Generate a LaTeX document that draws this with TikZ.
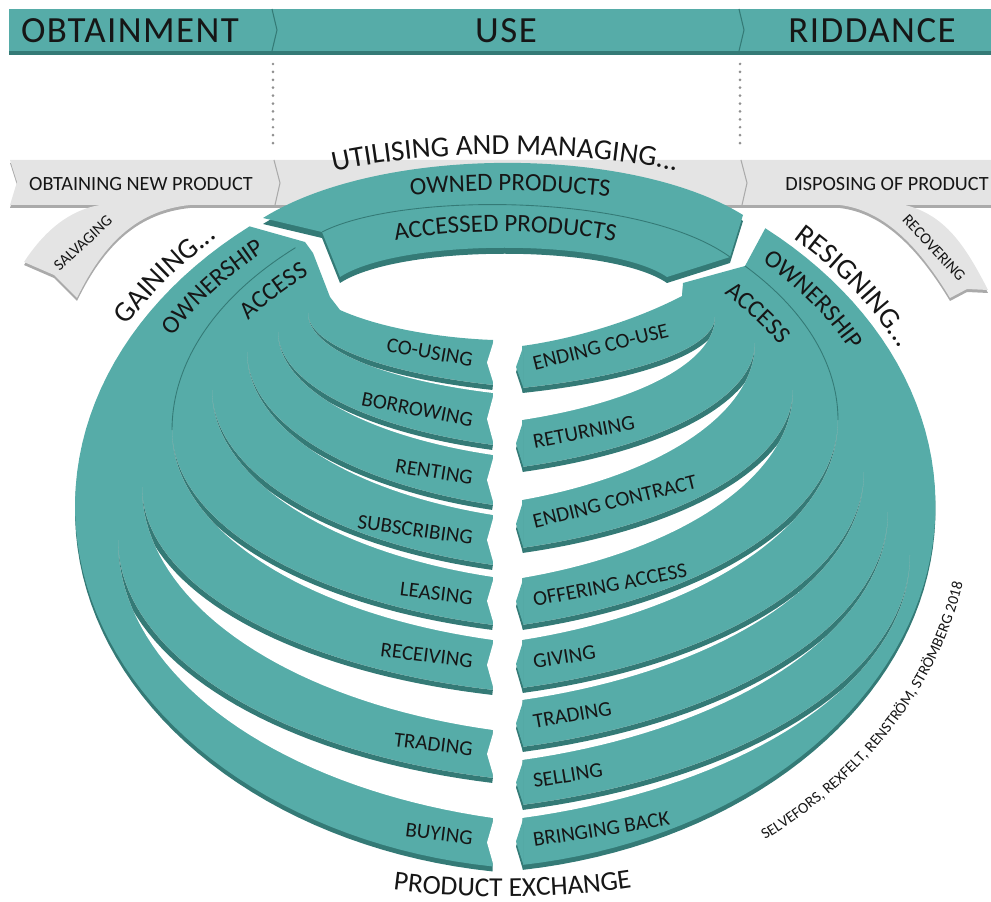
\documentclass[tikz,border=0pt]{standalone}
\usepackage{fontspec}
\setmainfont{Carlito}
\newfontfamily\headfont[LetterSpace=4]{Carlito}
\usetikzlibrary{decorations.text}

\definecolor{bandteal}{RGB}{86,172,168}
\definecolor{banddark}{RGB}{52,122,118}
\definecolor{bargray}{RGB}{228,228,228}
\definecolor{barshade}{RGB}{170,170,170}
\definecolor{ink}{RGB}{22,22,22}

% font sizes for the curved captions
\newcommand\arcbig{\fontsize{16.5}{19}\selectfont}
\newcommand\arcmid{\fontsize{14.2}{17}\selectfont}
\newcommand\arcsmall{\fontsize{8.8}{10}\selectfont}

% outlines that are filled twice (shade, then colour)
\newcommand\leftregion{plot[domain=0:1,samples=60,variable=\t] ({560+485*cos(230.2-132.3*\t)},{506+364*sin(230.2-132.3*\t)})
  -- (493,340) .. controls (440,338) and (380,328) .. (340,310) -- (330,297) -- (313,253) -- (305,242) -- cycle}
\newcommand\rightregion{plot[domain=0:1,samples=60,variable=\t] ({450+485.5*cos(-49.5+130.97*\t)},{505+364*sin(-49.5+130.97*\t)})
  -- (522,346) .. controls (580,338) and (640,318) .. (682,296) -- (683,283) -- (745,266) -- cycle}
\newcommand\topband{(263,218) .. controls (380,145) and (630,145) .. (743,215) -- (730,257) -- (667,277)
  .. controls (610,238) and (400,238) .. (340,277) -- (322,232) -- cycle}
\newcommand\graybar{(10,160) -- (1000,160) -- (1000,205) -- (905,205) .. controls (945,215) and (965,245) .. (988,290)
  -- (967,289) -- (950,298) .. controls (915,240) and (880,210) .. (840,205) -- (190,205)
  .. controls (140,210) and (105,240) .. (77,298) -- (54,275) -- (24,262)
  .. controls (45,230) and (70,210) .. (100,205) -- (10,205) -- (17,182) -- cycle}

\tikzset{
  lbl/.style={font=\fontsize{12}{14}\selectfont, text=ink, inner sep=0pt},
  headlbl/.style={font=\headfont\fontsize{21}{24}\selectfont, text=ink, inner sep=0pt},
  barlbl/.style={font=\fontsize{11.5}{13}\selectfont, text=ink, inner sep=0pt},
  twiglbl/.style={font=\fontsize{9}{10}\selectfont, text=ink, inner sep=0pt},
  divider/.style={draw=banddark, line width=0.5pt},
  dotline/.style={draw=barshade!85!black, line width=1.7pt, line cap=round, dash pattern=on 0pt off 4.5pt},
  curved/.style={decorate, decoration={text along path, text align=center, text color=ink, text={#1}}},
}

\begin{document}
\begin{tikzpicture}[x=0.02cm, y=-0.02cm]
\useasboundingbox (0,0) rectangle (991,902);
\clip (0,0) rectangle (991,902);

% phase header
\fill[banddark] (9,12) rectangle (991,55);
\fill[bandteal] (9,9) rectangle (991,51);
\draw[banddark, line width=0.6pt] (272,9) -- (277,30) -- (272,51);
\draw[banddark, line width=0.6pt] (739,9) -- (744,30) -- (739,51);
\node[headlbl] (obtain) at (130,31) {OBTAINMENT};
\node[headlbl] (use) at (506,31) {USE};
\node[headlbl] (riddance) at (872,31) {RIDDANCE};

\draw[dotline] (273,64) -- (273,150);
\draw[dotline] (740,64) -- (740,150);

% grey process bar with its two side branches
\fill[barshade, yshift=-0.06cm] \graybar;
\fill[bargray] \graybar;
\draw[barshade, line width=0.6pt] (274,160) -- (280,183) -- (275,205);
\draw[barshade, line width=0.6pt] (741,160) -- (747,183) -- (742,205);
\node[barlbl] (newprod) at (141,184) {OBTAINING NEW PRODUCT};
\node[barlbl] (dispose) at (887,184) {DISPOSING OF PRODUCT};
\node[twiglbl, rotate=43] (salvage) at (83,243) {SALVAGING};
\node[twiglbl, rotate=-47] (recover) at (934,248) {RECOVERING};

\path[curved={|\arcbig|UTILISING AND MANAGING...}] (300,180) .. controls (410,146) and (600,146) .. (710,180);

% use band on top
\fill[banddark, yshift=-0.12cm] \topband;
\fill[bandteal] \topband;
\draw[divider] (322,232) .. controls (400,192) and (640,192) .. (730,257);
\path[curved={|\arcmid|OWNED PRODUCTS}] (370,201) .. controls (440,187) and (570,187) .. (650,203);
\path[curved={|\arcmid|ACCESSED PRODUCTS}] (355,250) .. controls (440,225) and (570,225) .. (655,252);

% gaining and resigning fans
\fill[banddark, yshift=-0.1cm] \leftregion;
\fill[bandteal] \leftregion;
\fill[banddark, yshift=-0.1cm] \rightregion;
\fill[bandteal] \rightregion;

% gaps between the left arcs
\foreach \tx/\ty/\ya/\yb in {308/313/385/393, 278/332/445/455, 247/352/505/515, 212/390/565/577,
    172/430/625/640, 142/487/690/730, 118/540/778/818}{
  \pgfmathsetmacro\rx{610-\tx}
  \pgfmathsetmacro\te{acos(-117/\rx)}
  \pgfmathsetmacro\ra{(\ya-\ty)/sin(\te)}
  \pgfmathsetmacro\rb{(\yb-\ty)/sin(\te)}
  \begin{scope}
    \clip plot[domain=0:1,samples=40,variable=\t] ({610+\rx*cos(180+\t*(\te-180))},{\ty+\ra*sin(180+\t*(\te-180))})
      -- plot[domain=0:1,samples=40,variable=\t] ({610+\rx*cos(\te+\t*(180-\te))},{\ty+\rb*sin(\te+\t*(180-\te))}) -- cycle;
    \fill[white] (0,0) rectangle (991,902);
    \draw[banddark, line width=0.2cm] plot[domain=0:1,samples=40,variable=\t]
      ({610+\rx*cos(180+\t*(\te-180))},{\ty+\ra*sin(180+\t*(\te-180))});
  \end{scope}
}
% gaps between the right arcs
\foreach \tx/\ty/\ya/\yb in {715/317/388/420, 755/343/467/500, 793/390/548/578, 838/420/625/640,
    864/472/688/700, 888/512/747/760, 910/555/805/818}{
  \pgfmathsetmacro\rx{\tx-390}
  \pgfmathsetmacro\te{acos(132/\rx)}
  \pgfmathsetmacro\ra{(\ya-\ty)/sin(\te)}
  \pgfmathsetmacro\rb{(\yb-\ty)/sin(\te)}
  \begin{scope}
    \clip plot[domain=0:1,samples=40,variable=\t] ({390+\rx*cos(\t*\te)},{\ty+\ra*sin(\t*\te)})
      -- plot[domain=0:1,samples=40,variable=\t] ({390+\rx*cos(\te*(1-\t))},{\ty+\rb*sin(\te*(1-\t))}) -- cycle;
    \fill[white] (0,0) rectangle (991,902);
    \draw[banddark, line width=0.2cm] plot[domain=0:1,samples=40,variable=\t]
      ({390+\rx*cos(\t*\te)},{\ty+\ra*sin(\t*\te)});
  \end{scope}
}

% cut ends of the arcs
\foreach \a/\b in {340/385, 393/445, 455/505, 515/565, 577/625, 640/690, 730/778, 818/867}
  \fill[white] (494,\a) -- (487,{(\a+\b)/2}) -- (494,\b) -- cycle;
\foreach \a/\b in {346/388, 420/467, 500/548, 578/625, 640/688, 700/747, 760/805, 818/865}{
  \fill[banddark, yshift=-0.1cm] (523,\a) -- (516,{(\a+\b)/2}) -- (523,\b) -- cycle;
  \fill[bandteal] (523.5,\a) -- (516,{(\a+\b)/2}) -- (523.5,\b) -- cycle;
}

% ownership / access split
\draw[divider] plot[domain=180:224.1,samples=40] ({610+438*cos(\x)},{430+262*sin(\x)});
\draw[divider] plot[domain=-37.6:0,samples=40] ({390+448*cos(\x)},{420+252.5*sin(\x)});

\path[curved={|\arcbig|GAINING...}] plot[domain=199:235,samples=50] ({560+495*cos(\x)},{506+372*sin(\x)});
\path[curved={|\arcbig|RESIGNING...}] plot[domain=-52:-18,samples=50] ({450+495*cos(\x)},{505+371*sin(\x)});
\path[curved={|\arcmid|OWNERSHIP}] plot[domain=200:238,samples=50] ({560+449*cos(\x)},{506+337*sin(\x)});
\path[curved={|\arcmid|ACCESS}] plot[domain=206:242,samples=50] ({560+398*cos(\x)},{506+298*sin(\x)});
\path[curved={|\arcmid|OWNERSHIP}] plot[domain=-55:-17,samples=50] ({450+451*cos(\x)},{505+338*sin(\x)});
\path[curved={|\arcmid|ACCESS}] plot[domain=-58:-19,samples=50] ({450+393*cos(\x)},{505+295*sin(\x)});

% arc labels
\node[lbl, anchor=east, rotate=-10] (lcouse) at (473,360) {CO-USING};
\node[lbl, anchor=east, rotate=-11] (lborrow) at (473,420) {BORROWING};
\node[lbl, anchor=east, rotate=-9] (lrent) at (473,478) {RENTING};
\node[lbl, anchor=east, rotate=-8] (lsubscr) at (473,538) {SUBSCRIBING};
\node[lbl, anchor=east, rotate=-7] (llease) at (473,598) {LEASING};
\node[lbl, anchor=east, rotate=-7] (lreceive) at (473,661) {RECEIVING};
\node[lbl, anchor=east, rotate=-7] (ltrade) at (473,749) {TRADING};
\node[lbl, anchor=east, rotate=-7] (lbuy) at (473,838) {BUYING};

\node[lbl, anchor=west, rotate=14] (rcouse) at (533,364) {ENDING CO-USE};
\node[lbl, anchor=west, rotate=11] (rreturn) at (533,442) {RETURNING};
\node[lbl, anchor=west, rotate=14] (rcontract) at (533,522) {ENDING CONTRACT};
\node[lbl, anchor=west, rotate=11] (roffer) at (533,600) {OFFERING ACCESS};
\node[lbl, anchor=west, rotate=9] (rgive) at (533,662) {GIVING};
\node[lbl, anchor=west, rotate=10] (rtrade) at (533,722) {TRADING};
\node[lbl, anchor=west, rotate=9] (rsell) at (533,781) {SELLING};
\node[lbl, anchor=west, rotate=9] (rbring) at (533,840) {BRINGING BACK};

\path[curved={|\fontsize{15.6}{18}\selectfont|PRODUCT EXCHANGE}] (375,887) .. controls (450,900) and (570,900) .. (650,884);
\path[curved={|\arcsmall|SELVEFORS, REXFELT, RENSTRÖM, STRÖMBERG 2018}] plot[domain=0:62,samples=60] ({450+522*cos(62-\x)},{505+420*sin(62-\x)});
\end{tikzpicture}
\end{document}
